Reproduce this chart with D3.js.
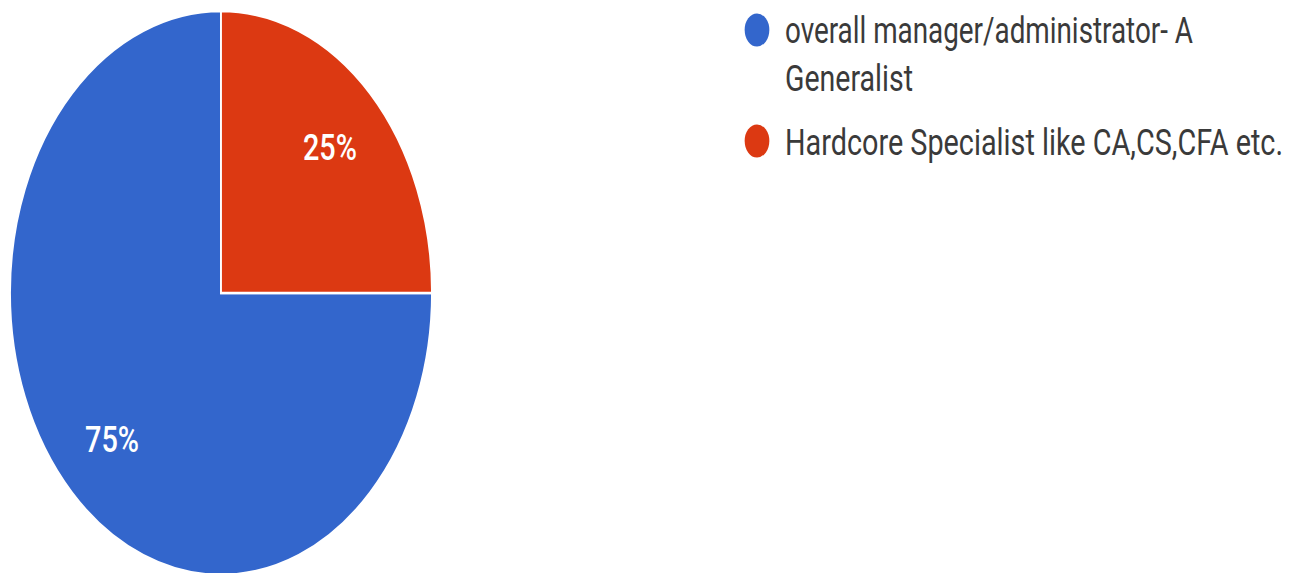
<!DOCTYPE html>
<html>
<head>
<meta charset="utf-8">
<script src="https://cdn.jsdelivr.net/npm/d3@7"></script>
<style>
  html, body { margin: 0; padding: 0; background: #fff; }
  svg { display: block; }
</style>
</head>
<body>
<svg id="chart" width="1304" height="573"></svg>
<script>
// Survey answers and their shares (percent)
const categories = [
  "overall manager/administrator- A Generalist",
  "Hardcore Specialist like CA,CS,CFA etc."
];
const shares = [75, 25];
const colors = ["#3366cc", "#dc3912"];
// Legend lines (first entry wraps onto two lines)
const legendLines = [
  ["overall manager/administrator- A", "Generalist"],
  ["Hardcore Specialist like CA,CS,CFA etc."]
];

const svg = d3.select("#chart");

// Pie geometry: drawn as a circle, then stretched into an ellipse
const cx = 221, cy = 293;
const ry = 282, rx = 211;
const sx = rx / ry;
const font = "Roboto, 'Liberation Sans', sans-serif";

const pie = d3.pie()
  .sort(null)
  .value(d => d)
  .startAngle(Math.PI / 2)
  .endAngle(Math.PI / 2 + 2 * Math.PI);

const arcs = pie(shares);
const arc = d3.arc().innerRadius(0).outerRadius(ry);
const labelArc = d3.arc().innerRadius(ry * 0.73).outerRadius(ry * 0.73);

const g = svg.append("g")
  .attr("transform", `translate(${cx},${cy}) scale(${sx},1)`);

g.selectAll("path.slice")
  .data(arcs)
  .join("path")
  .attr("class", "slice")
  .attr("d", arc)
  .attr("fill", (d, i) => colors[i])
  .attr("stroke", "#ffffff")
  .attr("stroke-width", 2.5);

// Percent labels at each slice's label point (same squeezed space)
const fmt = d => d3.format(".0f")(d) + "%";
g.selectAll("text.pct")
  .data(arcs)
  .join("text")
  .attr("class", "pct")
  .attr("x", d => labelArc.centroid(d)[0])
  .attr("y", d => labelArc.centroid(d)[1])
  .attr("dy", "0.36em")
  .attr("text-anchor", "middle")
  .attr("font-family", font)
  .attr("font-weight", 500)
  .attr("font-size", 36)
  .attr("textLength", 54 / sx)
  .attr("lengthAdjust", "spacingAndGlyphs")
  .attr("fill", "#ffffff")
  .text(d => fmt(d.data));

// Legend, drawn in the same horizontally squeezed space
const legendX = 757, textX = 785;
const legendRowY = [30, 141];       // dot centres
const lineBase = [[43, 91], [155]]; // text baselines
const lineWidths = [[408, 128], [498]];

const legend = svg.append("g")
  .attr("class", "legend")
  .attr("transform", `scale(${sx},1)`);
categories.forEach((c, i) => {
  legend.append("circle")
    .attr("cx", legendX / sx)
    .attr("cy", legendRowY[i])
    .attr("r", 16.5)
    .attr("fill", colors[i]);
  legendLines[i].forEach((line, j) => {
    legend.append("text")
      .attr("x", textX / sx)
      .attr("y", lineBase[i][j])
      .attr("font-family", font)
      .attr("font-size", 37)
      .attr("textLength", lineWidths[i][j] / sx)
      .attr("lengthAdjust", "spacingAndGlyphs")
      .attr("fill", "#3a3a3a")
      .text(line);
  });
});
</script>
</body>
</html>
